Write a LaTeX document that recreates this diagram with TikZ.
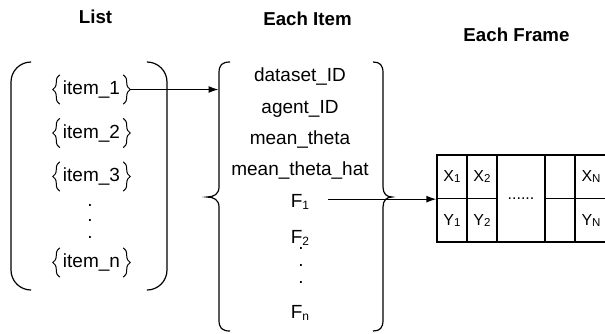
\documentclass[tikz,border=0pt]{standalone}
\usepackage{fontspec}
\setmainfont{Liberation Sans}
\usetikzlibrary{positioning, fit, calc, arrows.meta, decorations.pathreplacing}

\newcommand{\lowsub}[1]{{\fontsize{12}{12}\selectfont\raisebox{-2pt}{#1}}}
\newcommand{\cellsub}[1]{{\fontsize{11.5}{12}\selectfont\raisebox{-1pt}{#1}}}

\begin{document}
\begin{tikzpicture}[
    x=1pt, y=-1pt,
    >={Latex[length=10pt, width=7pt]},
    title/.style={font=\fontsize{18.7}{22}\selectfont\bfseries, anchor=base, inner sep=0pt},
    entry/.style={font=\fontsize{19}{22}\selectfont, minimum height=29pt, inner xsep=3pt, inner ysep=0pt, text height=14pt, text depth=4pt},
    field/.style={font=\fontsize{19}{22}\selectfont, anchor=base, inner sep=0pt},
    vdot/.style={font=\fontsize{19}{22}\selectfont, inner sep=0pt},
    cell/.style={draw, line width=1.3pt, minimum width=30pt, minimum height=43.5pt, inner sep=0pt, font=\fontsize{16}{18}\selectfont},
    brk/.style={decorate, decoration={brace, amplitude=7pt}, line width=1pt},
    paren/.style={line width=1.2pt, rounded corners=20pt},
    curly/.style={line width=1.2pt},
    flow/.style={->, line width=1.3pt},
]
\useasboundingbox (0,0) rectangle (605,333);

% --- Titles ---
\node[title] (listtitle)  at (95.5,23)  {List};
\node[title] (itemtitle)  at (307.5,25) {Each Item};
\node[title] (frametitle) at (516.5,41) {Each Frame};

% --- List ---
\foreach \k/\y in {1/89.5, 2/133, 3/176.5, n/262.5}
    \node[entry] (item\k) at (91.5,\y) {item\_\k};
\foreach \k in {1,2,3,n} {
    \draw[brk] (item\k.south west) -- (item\k.north west);
    \draw[brk] (item\k.north east) -- (item\k.south east);
}
\foreach \y [count=\i] in {205,220,237}
    \node[vdot] (ldot\i) at (90,\y) {.};

\draw[paren] (30,62) -- (11,62) -- (11,290) -- (30,290);
\draw[paren] (148,62) -- (167,62) -- (167,290) -- (148,290);

% --- Each Item ---
\node[field] (dsid)   at (300,81)  {dataset\_ID};
\node[field] (agid)   at (300,113) {agent\_ID};
\node[field] (mth)    at (300,144) {mean\_theta};
\node[field] (mthhat) at (300,175) {mean\_theta\_hat};
\node[field] (f1)     at (300,207) {F\lowsub{1}};
\node[field] (f2)     at (300,243) {F\lowsub{2}};
\node[field] (fn)     at (300,318) {F\lowsub{n}};
\foreach \y [count=\i] in {248,265,282}
    \node[vdot] (fdot\i) at (301,\y) {.};

\draw[curly] (230,62) .. controls (222,62) and (219,65) .. (219,73) -- (219,187)
    .. controls (219,194) and (214,197) .. (207,197)
    .. controls (214,197) and (219,200) .. (219,207) -- (219,320)
    .. controls (219,328) and (222,331) .. (230,331);
\draw[curly] (373,62) .. controls (380,62) and (383,65) .. (383,73) -- (383,187)
    .. controls (383,194) and (387,197) .. (392,197)
    .. controls (387,197) and (383,200) .. (383,207) -- (383,320)
    .. controls (383,328) and (380,331) .. (373,331);

% --- Each Frame ---
\node[cell] (x1) at (452,176.75) {X\cellsub{1}};
\node[cell] (x2) at (482,176.75) {X\cellsub{2}};
\node[cell] (y1) at (452,220.25) {Y\cellsub{1}};
\node[cell] (y2) at (482,220.25) {Y\cellsub{2}};
\node[cell, minimum width=48pt, minimum height=87pt] (mid) at (521,198.5) {......};
\node[cell] (e1) at (560,176.75) {};
\node[cell] (e2) at (560,220.25) {};
\node[cell, minimum width=32pt] (xn) at (591,176.75) {X\cellsub{N}};
\node[cell, minimum width=32pt] (yn) at (591,220.25) {Y\cellsub{N}};

% --- Flows ---
\coordinate (itemin) at (218.5,89.5);
\draw[flow] ([xshift=7pt]item1.east) -- (itemin);
\coordinate (f1out) at ([xshift=19pt]f1.east);
\draw[flow] (f1out |- x1.south west) -- (x1.south west);

\end{tikzpicture}
\end{document}
